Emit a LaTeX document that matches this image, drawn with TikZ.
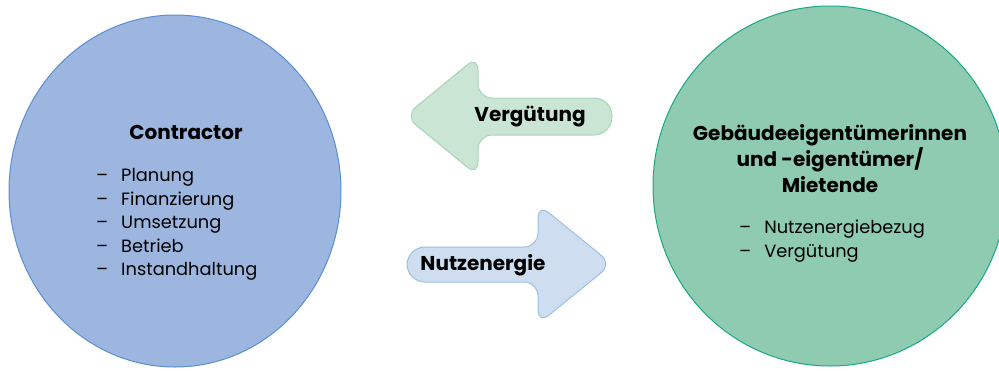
\documentclass[tikz,border=0pt]{standalone}
\usepackage{fontspec}
\setmainfont{Poppins}
\usetikzlibrary{shapes.geometric,positioning}

\definecolor{contrfill}{HTML}{9CB6DF}
\definecolor{contrline}{HTML}{5B8FD0}
\definecolor{ownerfill}{HTML}{8ECBB1}
\definecolor{ownerline}{HTML}{17A984}
\definecolor{payfill}{HTML}{CBE5D4}
\definecolor{payline}{HTML}{A6D6B6}
\definecolor{energyfill}{HTML}{CEDEF0}
\definecolor{energyline}{HTML}{9CC0E4}

\tikzset{
  party/.style={ellipse,line width=1pt,inner sep=0pt},
  head/.style={font=\fontsize{20}{26}\selectfont\bfseries,align=center,inner sep=0pt},
  items/.style={font=\fontsize{17.8}{23.5}\selectfont,inner sep=0pt,anchor=west},
  blockarrow/.style={line width=1pt,rounded corners=14pt}
}

\newcommand{\dashlist}[1]{\begin{tabular}{@{}l@{\hspace{13pt}}l@{}}#1\end{tabular}}

\begin{document}
\begin{tikzpicture}[x=1pt,y=-1pt]
  \useasboundingbox (0,0) rectangle (999,370);

  % the two parties
  \node[party,fill=contrfill,draw=contrline,minimum width=332pt,minimum height=352pt] (contractor) at (175,191) {};
  \node[party,fill=ownerfill,draw=ownerline,minimum width=354pt,minimum height=360pt] (owner) at (830,186) {};

  \node[head] (contrhead) at (186,132) {Contractor};
  \node[items] (contritems) at (96,224) {\dashlist{--&Planung\\ --&Finanzierung\\ --&Umsetzung\\ --&Betrieb\\ --&Instandhaltung}};

  \node[head] (ownerhead) at (830,159) {Gebäudeeigentümerinnen\\ und -eigentümer/\\ Mietende};
  \node[items] (owneritems) at (739,241) {\dashlist{--&Nutzenergiebezug\\ --&Vergütung}};

  % payment back to the contractor
  \filldraw[blockarrow,fill=payfill,draw=payline]
    (405,116) -- (478,56) -- (478,98) [rounded corners=18pt] -- (612,98) -- (612,135)
    [rounded corners=14pt] -- (478,135) -- (478,176) -- cycle;
  \node[head] (payment) at (530,117) {Vergütung};

  % useful energy to the owners
  \filldraw[blockarrow,fill=energyfill,draw=energyline]
    (612,264) -- (538,204) -- (538,247) [rounded corners=18pt] -- (407,247) -- (407,282)
    [rounded corners=14pt] -- (538,282) -- (538,324) -- cycle;
  \node[head] (energy) at (483,265) {Nutzenergie};
\end{tikzpicture}
\end{document}
